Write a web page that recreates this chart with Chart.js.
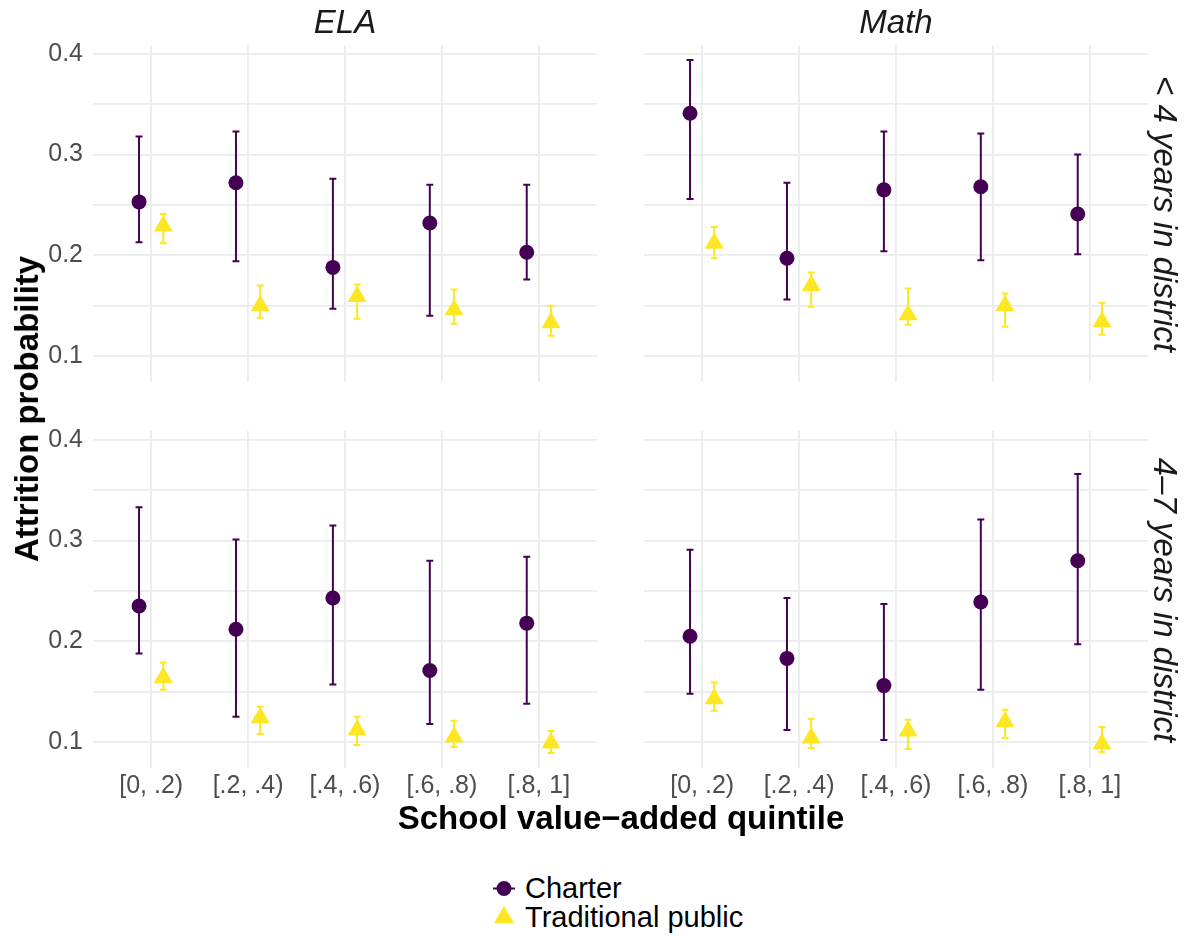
<!DOCTYPE html>
<html>
<head>
<meta charset="utf-8">
<script src="https://cdn.jsdelivr.net/npm/chart.js@4.4.1/dist/chart.umd.min.js"></script>
<style>
  body { margin: 0; background: #fff; }
  #page { position: relative; width: 1190px; height: 936px; background: #fff; font-family: "Liberation Sans", Arial, sans-serif; }
  .panel { position: absolute; }
  .txt { position: absolute; white-space: nowrap; color: #1a1a1a; }
  .strip { font-size: 33px; font-style: italic; }
  .rot-right { transform: translate(-50%, -50%) rotate(90deg); }
  .rot-left { transform: translate(-50%, -50%) rotate(-90deg); }
  .center { transform: translate(-50%, -50%); }
  .legend-row { position: absolute; left: 490px; height: 29px; display: flex; align-items: center; font-size: 29px; color: #000; }
  .legend-row svg { width: 30px; height: 29px; margin-right: 5px; }
</style>
</head>
<body>
<div id="page">
  <!-- each panel canvas starts 20px above its plot area to leave room for the top tick label -->
  <div class="panel" style="left:40px; top:25px; width:557px; height:357px;"><canvas id="elaShort"></canvas></div>
  <div class="panel" style="left:644px; top:25px; width:504px; height:357px;"><canvas id="mathShort"></canvas></div>
  <div class="panel" style="left:40px; top:411px; width:557px; height:402px;"><canvas id="elaLong"></canvas></div>
  <div class="panel" style="left:644px; top:411px; width:504px; height:402px;"><canvas id="mathLong"></canvas></div>

  <div class="txt strip center" style="left:345px; top:22px;">ELA</div>
  <div class="txt strip center" style="left:896px; top:22px;">Math</div>
  <div class="txt strip rot-right" style="left:1165px; top:214px;">&lt; 4 years in district</div>
  <div class="txt strip rot-right" style="left:1165px; top:600px;">4–7 years in district</div>

  <div class="txt rot-left" style="left:27px; top:409px; font-size:33px; font-weight:bold; color:#000;">Attrition probability</div>
  <div class="txt center" style="left:621px; top:818px; font-size:33px; font-weight:bold; color:#000;">School value−added quintile</div>

  <div class="legend-row" style="top:874px;">
    <svg viewBox="0 0 30 29"><line x1="3" y1="14.5" x2="25" y2="14.5" stroke="#440154" stroke-width="2"/><circle cx="14" cy="14.5" r="7.5" fill="#440154"/></svg>
    <span>Charter</span>
  </div>
  <div class="legend-row" style="top:903px;">
    <svg viewBox="0 0 30 29"><polygon points="14,3 24,20 4,20" fill="#FDE725"/></svg>
    <span>Traditional public</span>
  </div>
</div>

<script>
// quintile categories on the x axis
const categories = ["[0, .2)", "[.2, .4)", "[.4, .6)", "[.6, .8)", "[.8, 1]"];
const yGridValues = [0.1, 0.15, 0.2, 0.25, 0.3, 0.35, 0.4];
const yTickLabels = ["0.1", "", "0.2", "", "0.3", "", "0.4"];

// ELA, < 4 years in district
const elaShortCharter   = [0.253, 0.272, 0.188, 0.232, 0.203];
const elaShortCharterLo = [0.213, 0.194, 0.147, 0.140, 0.176];
const elaShortCharterHi = [0.318, 0.323, 0.276, 0.270, 0.270];
const elaShortPublic    = [0.229, 0.150, 0.159, 0.146, 0.133];
const elaShortPublicLo  = [0.212, 0.138, 0.137, 0.132, 0.120];
const elaShortPublicHi  = [0.241, 0.170, 0.171, 0.166, 0.150];

// Math, < 4 years in district
const mathShortCharter   = [0.341, 0.197, 0.265, 0.268, 0.241];
const mathShortCharterLo = [0.256, 0.156, 0.204, 0.195, 0.201];
const mathShortCharterHi = [0.394, 0.272, 0.323, 0.321, 0.300];
const mathShortPublic    = [0.212, 0.170, 0.141, 0.150, 0.134];
const mathShortPublicLo  = [0.197, 0.149, 0.131, 0.129, 0.121];
const mathShortPublicHi  = [0.228, 0.183, 0.167, 0.162, 0.153];

// ELA, 4-7 years in district
const elaLongCharter   = [0.235, 0.212, 0.243, 0.171, 0.218];
const elaLongCharterLo = [0.188, 0.125, 0.157, 0.118, 0.138];
const elaLongCharterHi = [0.333, 0.301, 0.315, 0.280, 0.284];
const elaLongPublic    = [0.164, 0.124, 0.112, 0.105, 0.099];
const elaLongPublicLo  = [0.152, 0.108, 0.097, 0.095, 0.089];
const elaLongPublicHi  = [0.179, 0.135, 0.125, 0.121, 0.111];

// Math, 4-7 years in district
const mathLongCharter   = [0.205, 0.183, 0.156, 0.239, 0.280];
const mathLongCharterLo = [0.148, 0.112, 0.102, 0.152, 0.197];
const mathLongCharterHi = [0.291, 0.243, 0.237, 0.321, 0.366];
const mathLongPublic    = [0.143, 0.104, 0.111, 0.120, 0.098];
const mathLongPublicLo  = [0.131, 0.094, 0.093, 0.104, 0.090];
const mathLongPublicHi  = [0.159, 0.123, 0.122, 0.132, 0.115];

const charterColor = "#440154";
const publicColor = "#FDE725";
const dodge = 0.125;
const capHalf = 0.036;

Chart.defaults.font.family = '"Liberation Sans", Arial, sans-serif';

// draws the vertical error bars with caps, using the chart scales
const errorBars = {
  id: "errorBars",
  beforeDatasetsDraw(chart) {
    const ctx = chart.ctx;
    const xs = chart.scales.x;
    const ys = chart.scales.y;
    chart.data.datasets.forEach(function (ds) {
      ctx.save();
      ctx.strokeStyle = ds.backgroundColor;
      ctx.lineWidth = 2;
      ds.data.forEach(function (pt, i) {
        const px = xs.getPixelForValue(pt.x);
        const x0 = xs.getPixelForValue(pt.x - capHalf);
        const x1 = xs.getPixelForValue(pt.x + capHalf);
        const lo = ys.getPixelForValue(ds.lower[i]);
        const hi = ys.getPixelForValue(ds.upper[i]);
        ctx.beginPath();
        ctx.moveTo(px, lo); ctx.lineTo(px, hi);
        ctx.moveTo(x0, lo); ctx.lineTo(x1, lo);
        ctx.moveTo(x0, hi); ctx.lineTo(x1, hi);
        ctx.stroke();
      });
      ctx.restore();
    });
  }
};

function points(values, shift) {
  return values.map(function (v, i) { return { x: i + 1 + shift, y: v }; });
}

function makePanel(id, charter, cLo, cHi, pub, pLo, pHi, showY, showX) {
  return new Chart(document.getElementById(id), {
    type: "scatter",
    data: {
      datasets: [
        {
          label: "Charter",
          data: points(charter, -dodge),
          lower: cLo, upper: cHi,
          backgroundColor: charterColor,
          borderColor: charterColor,
          pointStyle: "circle",
          pointRadius: 7.5,
          pointBorderWidth: 0,
        },
        {
          label: "Traditional public",
          data: points(pub, dodge),
          lower: pLo, upper: pHi,
          backgroundColor: publicColor,
          borderColor: publicColor,
          pointStyle: "triangle",
          pointRadius: 11,
          pointBorderWidth: 0,
        },
      ],
    },
    options: {
      responsive: true,
      maintainAspectRatio: false,
      animation: false,
      layout: { padding: { top: 20, left: 0, right: 0, bottom: 0 }, autoPadding: false },
      plugins: { legend: { display: false }, tooltip: { enabled: false } },
      scales: {
        x: {
          type: "linear",
          min: 0.4,
          max: 5.6,
          afterBuildTicks: function (scale) {
            scale.ticks = categories.map(function (c, i) { return { value: i + 1 }; });
          },
          afterFit: function (scale) {
            scale.height = showX ? 45 : 0;
            scale.paddingLeft = 0;
            scale.paddingRight = 0;
          },
          grid: { color: "#EBEBEB", lineWidth: 1.8, drawTicks: false },
          border: { display: false },
          ticks: {
            display: showX,
            padding: 3,
            color: "#4D4D4D",
            font: { size: 25 },
            maxRotation: 0,
            autoSkip: false,
            callback: function (v, i) { return categories[i]; },
          },
        },
        y: {
          min: 0.0742,
          max: 0.4088,
          afterBuildTicks: function (scale) {
            scale.ticks = yGridValues.map(function (v) { return { value: v }; });
          },
          afterFit: function (scale) {
            scale.width = showY ? 53 : 0;
            scale.paddingTop = 0;
            scale.paddingBottom = 0;
          },
          grid: { color: "#EBEBEB", lineWidth: 1.8, drawTicks: false },
          border: { display: false },
          ticks: {
            display: showY,
            padding: 10,
            color: "#4D4D4D",
            font: { size: 25 },
            autoSkip: false,
            callback: function (v, i) { return yTickLabels[i]; },
          },
        },
      },
    },
    plugins: [errorBars],
  });
}

makePanel("elaShort", elaShortCharter, elaShortCharterLo, elaShortCharterHi,
  elaShortPublic, elaShortPublicLo, elaShortPublicHi, true, false);
makePanel("mathShort", mathShortCharter, mathShortCharterLo, mathShortCharterHi,
  mathShortPublic, mathShortPublicLo, mathShortPublicHi, false, false);
makePanel("elaLong", elaLongCharter, elaLongCharterLo, elaLongCharterHi,
  elaLongPublic, elaLongPublicLo, elaLongPublicHi, true, true);
makePanel("mathLong", mathLongCharter, mathLongCharterLo, mathLongCharterHi,
  mathLongPublic, mathLongPublicLo, mathLongPublicHi, false, true);
</script>
</body>
</html>
